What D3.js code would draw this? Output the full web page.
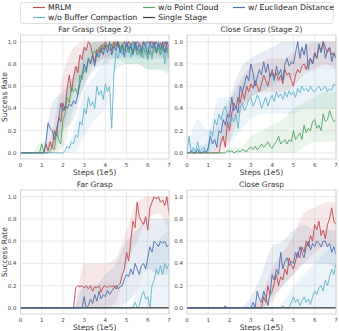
<!DOCTYPE html>
<html>
<head>
<meta charset="utf-8">
<script src="https://cdn.jsdelivr.net/npm/d3@7"></script>
<style>
  body { margin: 0; background: #fff; }
  svg { display: block; font-family: "DejaVu Sans", sans-serif; }
  .tick-label { font-size: 5.5px; fill: #444; }
  .title { font-size: 7.5px; fill: #333; }
  .axis-label { font-size: 7.5px; fill: #333; }
  .legend-text { font-size: 7.8px; fill: #222; }
</style>
</head>
<body>
<svg id="chart" width="339" height="331"></svg>
<script>
// step values 0.0 .. 7.0 (x1e5), every 0.1
const steps = d3.range(71).map(i => i / 10);
// band sample points, every 0.5
const bandSteps = d3.range(15).map(i => i / 2);
const xTicks = [0, 1, 2, 3, 4, 5, 6, 7];
const yTicks = [0, 0.2, 0.4, 0.6, 0.8, 1.0];

const seriesNames = ["MRLM", "w/o Buffer Compaction", "w/o Point Cloud", "Single Stage", "w/ Euclidean Distance"];
const seriesColors = ["#c44e52", "#64b5cd", "#55a868", "#3b3b3b", "#4c72b0"];

// ---- Far Grasp (Stage 2)
const farS2Mrlm = [0,0,0,0,0,0,0,0,0,0,0,0,
  0.08,0.02,0.1,0.04,0.2,0.15,0.32,0.28,0.45,0.38,0.58,0.7,0.55,0.68,0.78,0.72,0.88,0.84,
  0.95,0.92,1.0,0.97,0.88,0.82,0.93,0.9,0.97,0.93,1.0,0.95,0.98,0.92,1.0,0.96,1.0,0.94,0.98,1.0,
  0.95,1.0,0.97,1.0,0.96,1.0,0.98,0.94,1.0,0.97,1.0,0.99,1.0,0.96,1.0,0.95,0.99,0.92,1.0,0.96,0.9];
const farS2Euclid = [0,0,0,0,0,0,0,0,0,0,0,0,
  0.1,0.27,0.22,0.2,0.12,0.22,0.3,0.45,0.38,0.42,0.4,0.44,0.42,0.47,0.44,0.52,0.62,0.7,
  0.8,0.74,0.85,0.8,0.88,0.78,0.9,0.86,0.94,0.88,0.97,0.9,1.0,0.88,0.96,0.92,1.0,0.9,0.97,0.86,
  1.0,0.93,0.98,0.88,1.0,0.92,0.98,0.9,1.0,0.95,0.88,1.0,0.94,1.0,0.9,0.98,0.93,1.0,0.9,1.0,0.95];
const farS2NoPc = [0,0,0,0,0,0,0,0,0,0,
  0.08,0,0,0,0.02,0.05,0.03,0.2,0.12,0.08,0.3,0.35,0.5,0.45,0.6,0.55,0.58,0.52,0.7,0.66,
  0.75,0.72,0.85,0.8,0.88,0.92,0.86,0.95,0.9,0.98,0.94,0.97,0.92,0.98,0.95,1.0,0.96,0.93,0.98,0.92,
  0.97,0.9,0.95,0.9,0.96,0.88,0.93,0.86,0.95,0.9,0.84,0.92,0.88,0.96,0.9,0.94,0.88,0.98,0.9,0.94,0.85];
const farS2NoBuf = [0,0,0,0,0,0,0,0,0,0,0,0,0,0,0,0,0,0,0,0,0,
  0.02,0.06,0.04,0.1,0.08,0.16,0.14,0.28,0.25,0.4,0.35,0.5,0.42,0.46,0.4,0.6,0.52,0.56,0.48,
  0.62,0.55,0.6,0.22,0.7,0.9,0.85,0.95,0.88,0.98,0.9,0.96,0.86,1.0,0.92,0.97,0.88,0.95,0.85,1.0,
  0.9,0.96,0.84,0.98,0.92,1.0,0.88,0.96,0.8,0.95,0.9];
const farS2MrlmLo = [0,0,0,0,0.2,0.55,0.75,0.8,0.85,0.9,0.9,0.9,0.9,0.88,0.8];
const farS2MrlmHi = [0,0,0,0.2,0.7,0.95,1,1,1,1,1,1,1,1,1];
const farS2EuclidLo = [0,0,0,0.05,0.2,0.3,0.6,0.75,0.8,0.85,0.85,0.85,0.85,0.85,0.85];
const farS2EuclidHi = [0,0,0,0.45,0.55,0.7,0.95,1,1,1,1,1,1,1,1];
const farS2NoPcLo = [0,0,0,0,0.05,0.4,0.6,0.8,0.85,0.85,0.8,0.8,0.75,0.75,0.7];
const farS2NoPcHi = [0,0,0.1,0.1,0.45,0.7,0.85,1,1,1,1,1,1,1,1];
const farS2NoBufLo = [0,0,0,0,0,0,0.15,0.3,0.4,0.75,0.8,0.8,0.75,0.75,0.75];
const farS2NoBufHi = [0,0,0,0,0,0.2,0.55,0.7,0.85,1,1,1,1,1,1];

// ---- Close Grasp (Stage 2)
const closeS2Euclid = [0,0,0.02,0,0,0.03,0,0,0.02,0,
  0.05,0.15,0.08,0.12,0.05,0.2,0.18,0.3,0.25,0.35,0.32,0.5,0.38,0.42,0.36,0.6,0.55,0.62,0.7,0.65,
  0.8,0.72,0.6,0.68,0.75,0.7,0.82,0.72,0.8,0.68,0.72,0.65,0.78,0.7,0.75,0.65,0.8,0.85,0.78,0.82,
  0.8,0.9,1.0,0.85,0.95,0.88,0.98,0.75,0.85,0.8,0.9,0.85,0.98,0.9,1.0,0.85,0.92,0.95,0.82,0.9,0.85];
const closeS2Mrlm = [0,0,0,0,0,0,0,0,0,0,0,0,0,0,0,0,
  0.1,0.15,0.05,0.28,0.2,0.35,0.45,0.4,0.5,0.45,0.55,0.48,0.6,0.55,
  0.62,0.58,0.65,0.6,0.55,0.62,0.7,0.65,0.6,0.68,0.75,0.68,0.72,0.65,0.7,0.62,0.75,0.7,0.72,0.65,
  0.6,0.7,0.75,0.72,0.78,0.8,0.75,0.82,0.85,0.8,0.9,0.85,0.95,0.92,1.0,0.95,0.9,0.95,0.88,0.9,0.85];
const closeS2NoBuf = [0,0.15,0,0.05,0,0.1,0,0.03,0.05,0,
  0.02,0.2,0.15,0.3,0.25,0.35,0.3,0.38,0.42,0.35,0.25,0.32,0.28,0.35,0.22,0.4,0.45,0.38,0.42,0.48,
  0.5,0.42,0.46,0.52,0.48,0.4,0.45,0.5,0.42,0.48,0.52,0.46,0.55,0.5,0.53,0.48,0.55,0.5,0.56,0.52,
  0.55,0.5,0.58,0.54,0.6,0.56,0.58,0.55,0.6,0.56,0.55,0.58,0.6,0.56,0.58,0.6,0.55,0.58,0.56,0.62,0.6];
const closeS2NoPc = [0,0,0,0,0,0,0,0,0,0,0,0,0,0,0,0,0,0,0,
  0.02,0.01,0.02,0,0.01,0.02,0.01,0.03,0.02,0.01,0.04,
  0.05,0.03,0.06,0.03,0.05,0.08,0.05,0.07,0.1,0.06,0.04,0.08,0.1,0.15,0.08,0.1,0.12,0.08,0.12,0.1,
  0.2,0.12,0.15,0.18,0.12,0.25,0.18,0.22,0.2,0.28,0.3,0.22,0.25,0.2,0.35,0.28,0.3,0.38,0.32,0.28,0.3];
const closeS2EuclidLo = [0,0,0,0.05,0.2,0.4,0.5,0.55,0.6,0.65,0.7,0.75,0.75,0.75,0.75];
const closeS2EuclidHi = [0,0.05,0.1,0.3,0.5,0.75,0.85,0.9,0.95,1,1,1,1,1,1];
const closeS2MrlmLo = [0,0,0,0,0.1,0.35,0.5,0.55,0.55,0.55,0.6,0.7,0.75,0.8,0.75];
const closeS2MrlmHi = [0,0,0,0.1,0.45,0.65,0.78,0.82,0.85,0.85,0.9,0.95,1,1,1];
const closeS2NoBufLo = [0,0,0,0.1,0.1,0.2,0.3,0.35,0.35,0.35,0.35,0.4,0.4,0.4,0.4];
const closeS2NoBufHi = [0,0.3,0.2,0.5,0.5,0.6,0.7,0.7,0.72,0.7,0.72,0.75,0.75,0.75,0.75];
const closeS2NoPcLo = [0,0,0,0,0,0,0,0,0,0,0,0.05,0.1,0.1,0.1];
const closeS2NoPcHi = [0,0,0,0,0.05,0.05,0.15,0.2,0.25,0.3,0.4,0.45,0.5,0.55,0.55];

// ---- Far Grasp
const farMrlm = [0,0,0,0,0,0,0,0,0,0,0,0,0,0,0,0,0,0,0,0,0,0,0,0,0,0,
  0.18,0.2,0.19,0.2,0.18,0.2,0.17,0.2,0.15,0.19,0.18,0.2,0.14,0.19,0.2,0.18,0.2,0.19,0.2,
  0.17,0.2,0.22,0.3,0.35,0.5,0.42,0.6,0.78,0.72,0.95,0.82,0.78,0.75,0.82,0.7,0.9,0.95,1.0,0.98,
  1.0,0.95,0.97,0.92,1.0,0.85];
const farEuclid = [0,0,0,0,0,0,0,0,0,0,0,0,0,0,0,0,0,0,0,0,0,0,0,0,0,0,0,0,0,0,
  0.1,0,0.02,0.08,0.04,0.12,0.06,0.15,0.08,0.12,0.1,0.16,0.12,0.15,0.18,0.2,0.17,0.19,0.2,0.26,
  0.3,0.28,0.35,0.3,0.4,0.35,0.3,0.38,0.4,0.35,0.45,0.55,0.5,0.6,0.58,0.55,0.6,0.58,0.6,0.55,0.57];
const farNoBuf = [0,0,0,0,0,0,0,0,0,0,0,0,0,0,0,0,0,0,0,0,0,0,0,0,0,0,0,0,0,0,
  0,0,0,0,0,0,0,0,0,0,0,0,0,0,0,0,0,0,0,0,0,0,0,0,
  0.05,0,0.02,0.1,0.15,0.08,0.1,0,0.2,0.25,0.35,0.3,0.38,0.3,0.4,0.35,0.4];
const farSingle = steps.map(() => 0);
const farMrlmLo = [0,0,0,0,0,0,0,0,0,0.05,0.4,0.6,0.8,0.85,0.7];
const farMrlmHi = [0,0,0,0,0,0,0.4,0.4,0.4,0.45,0.7,0.95,1,1,1];
const farEuclidLo = [0,0,0,0,0,0,0,0,0,0,0.05,0.15,0.35,0.3,0.3];
const farEuclidHi = [0,0,0,0,0,0,0.2,0.2,0.3,0.4,0.6,0.7,0.8,0.8,0.8];
const farNoBufLo = [0,0,0,0,0,0,0,0,0,0,0,0,0,0,0];
const farNoBufHi = [0,0,0,0,0,0,0,0,0,0,0,0.15,0.4,0.6,0.7];

// ---- Close Grasp
const closeEuclid = [0,0,0,0,0,0,0,0,0,0,0,0,0,0,0,0,0,0,0.02,
  0,0,0,0,0,0,0,0,0,0,0,0,
  0.05,0,0.15,0.08,0.05,0.15,0.1,0.02,0.12,0.3,0.25,0.35,0.3,0.5,0.35,0.42,0.45,0.38,0.42,
  0.4,0.5,0.45,0.55,0.5,0.45,0.55,0.6,0.52,0.58,0.55,0.6,0.58,0.55,0.6,0.6,0.55,0.58,0.5,0.55,0.48];
const closeMrlm = [0,0,0,0,0,0,0,0,0,0,0,0,0,0,0,0,0,0,0,0,0,0,0,0,0,0,0,0,0,0,0,0,0,0,0,0,
  0.1,0.05,0.2,0.12,0.15,0.22,0.3,0.2,0.28,0.25,0.35,0.3,0.45,0.38,0.35,0.42,0.5,0.45,0.55,
  0.5,0.6,0.55,0.65,0.6,0.75,0.7,0.78,0.65,0.7,0.62,0.75,0.8,0.9,0.78,0.75];
const closeNoBuf = [0,0,0,0,0,0,0,0,0,0,0,0,0,0,0,0,0,0,0,0,0,0,0,0,0,0,0,0,0,0,
  0,0,0,0,0,0,0,0,0,0,0,0,0,0,0,
  0.02,0,0,0,0.05,0.1,0.05,0.08,0.02,0.06,0.1,0.05,0.08,0.03,0.1,0.15,0.12,0.18,0.2,0.15,
  0.25,0.2,0.28,0.35,0.3,0.4];
const closeSingle = steps.map(() => 0);
const closeMrlmLo = [0,0,0,0,0,0,0,0,0.05,0.2,0.3,0.4,0.5,0.55,0.55];
const closeMrlmHi = [0,0,0,0,0,0,0,0.1,0.35,0.5,0.65,0.85,0.9,0.95,0.95];
const closeEuclidLo = [0,0,0,0,0,0,0,0,0.1,0.2,0.3,0.4,0.4,0.4,0.35];
const closeEuclidHi = [0,0,0,0,0,0,0.1,0.3,0.55,0.6,0.7,0.75,0.7,0.7,0.7];
const closeNoBufLo = [0,0,0,0,0,0,0,0,0,0,0,0,0,0,0];
const closeNoBufHi = [0,0,0,0,0,0,0,0,0,0.05,0.2,0.3,0.4,0.5,0.6];

const panels = [
  { title: "Far Grasp (Stage 2)", left: 20.5, right: 169, top: 35, bottom: 159, yLabel: true,
    lines: [
      { s: 0, v: farS2Mrlm, lo: farS2MrlmLo, hi: farS2MrlmHi },
      { s: 1, v: farS2NoBuf, lo: farS2NoBufLo, hi: farS2NoBufHi },
      { s: 2, v: farS2NoPc, lo: farS2NoPcLo, hi: farS2NoPcHi },
      { s: 4, v: farS2Euclid, lo: farS2EuclidLo, hi: farS2EuclidHi }
    ] },
  { title: "Close Grasp (Stage 2)", left: 187, right: 336, top: 35, bottom: 159, yLabel: false,
    lines: [
      { s: 0, v: closeS2Mrlm, lo: closeS2MrlmLo, hi: closeS2MrlmHi },
      { s: 1, v: closeS2NoBuf, lo: closeS2NoBufLo, hi: closeS2NoBufHi },
      { s: 2, v: closeS2NoPc, lo: closeS2NoPcLo, hi: closeS2NoPcHi },
      { s: 4, v: closeS2Euclid, lo: closeS2EuclidLo, hi: closeS2EuclidHi }
    ] },
  { title: "Far Grasp", left: 20.5, right: 169, top: 190, bottom: 314, yLabel: true,
    lines: [
      { s: 0, v: farMrlm, lo: farMrlmLo, hi: farMrlmHi },
      { s: 1, v: farNoBuf, lo: farNoBufLo, hi: farNoBufHi },
      { s: 3, v: farSingle },
      { s: 4, v: farEuclid, lo: farEuclidLo, hi: farEuclidHi }
    ] },
  { title: "Close Grasp", left: 187, right: 336, top: 190, bottom: 314, yLabel: false,
    lines: [
      { s: 0, v: closeMrlm, lo: closeMrlmLo, hi: closeMrlmHi },
      { s: 1, v: closeNoBuf, lo: closeNoBufLo, hi: closeNoBufHi },
      { s: 3, v: closeSingle },
      { s: 4, v: closeEuclid, lo: closeEuclidLo, hi: closeEuclidHi }
    ] }
];

const svg = d3.select("#chart");
svg.append("rect").attr("width", 339).attr("height", 331).attr("fill", "#fff");

panels.forEach(p => {
  const x = d3.scaleLinear().domain([0, 7]).range([p.left, p.right]);
  const y = d3.scaleLinear().domain([-0.055, 1.06]).range([p.bottom, p.top]);
  const g = svg.append("g");

  // grid
  g.selectAll(".gx").data(xTicks).join("line")
    .attr("x1", d => x(d)).attr("x2", d => x(d))
    .attr("y1", p.top).attr("y2", p.bottom)
    .attr("stroke", "#e5e5e5").attr("stroke-width", 0.8);
  g.selectAll(".gy").data(yTicks).join("line")
    .attr("x1", p.left).attr("x2", p.right)
    .attr("y1", d => y(d)).attr("y2", d => y(d))
    .attr("stroke", "#e5e5e5").attr("stroke-width", 0.8);

  // tick labels
  g.selectAll(".xt").data(xTicks).join("text")
    .attr("class", "tick-label")
    .attr("x", d => x(d)).attr("y", p.bottom + 7.5)
    .attr("text-anchor", "middle")
    .text(d => d);
  g.selectAll(".yt").data(yTicks).join("text")
    .attr("class", "tick-label")
    .attr("x", p.left - 4).attr("y", d => y(d) + 2)
    .attr("text-anchor", "end")
    .text(d3.format(".1f"));

  const clipId = "clip" + Math.round(p.left) + p.top;
  svg.append("clipPath").attr("id", clipId).append("rect")
    .attr("x", p.left).attr("y", p.top)
    .attr("width", p.right - p.left).attr("height", p.bottom - p.top);
  const plot = g.append("g").attr("clip-path", `url(#${clipId})`);

  const band = d3.area()
    .x((d, i) => x(bandSteps[i]))
    .y0(d => y(d[0])).y1(d => y(d[1]))
    .curve(d3.curveMonotoneX);
  const line = d3.line()
    .x((d, i) => x(steps[i]))
    .y(d => y(d));

  p.lines.filter(l => l.lo).forEach(l => {
    plot.append("path")
      .datum(l.lo.map((v, i) => [v, l.hi[i]]))
      .attr("d", band)
      .attr("fill", seriesColors[l.s])
      .attr("fill-opacity", 0.13);
  });
  p.lines.forEach(l => {
    plot.append("path")
      .datum(l.v)
      .attr("d", line)
      .attr("fill", "none")
      .attr("stroke", seriesColors[l.s])
      .attr("stroke-width", l.s === 3 ? 1.3 : 0.95)
      .attr("stroke-linejoin", "round");
  });

  // frame
  g.append("rect")
    .attr("x", p.left).attr("y", p.top)
    .attr("width", p.right - p.left).attr("height", p.bottom - p.top)
    .attr("fill", "none").attr("stroke", "#d0d0d0").attr("stroke-width", 0.8);

  g.append("text").attr("class", "title")
    .attr("x", (p.left + p.right) / 2).attr("y", p.top - 3)
    .attr("text-anchor", "middle").text(p.title);
  g.append("text").attr("class", "axis-label")
    .attr("x", (p.left + p.right) / 2).attr("y", p.bottom + 16)
    .attr("text-anchor", "middle").text("Steps (1e5)");
  if (p.yLabel) {
    g.append("text").attr("class", "axis-label")
      .attr("transform", `translate(7,${(p.top + p.bottom) / 2}) rotate(-90)`)
      .attr("text-anchor", "middle").text("Success Rate");
  }
});

// legend
const legendCols = [33, 143, 233];
const legendRows = [7.5, 17.5];
const legend = svg.append("g");
legend.append("rect")
  .attr("x", 20.5).attr("y", 2.5).attr("width", 312.5).attr("height", 21)
  .attr("rx", 2).attr("fill", "#fff").attr("stroke", "#d8d8d8").attr("stroke-width", 0.8);
seriesNames.forEach((name, i) => {
  const cx = legendCols[Math.floor(i / 2)];
  const cy = legendRows[i % 2];
  legend.append("line")
    .attr("x1", cx).attr("x2", cx + 12).attr("y1", cy).attr("y2", cy)
    .attr("stroke", seriesColors[i]).attr("stroke-width", 1.2);
  legend.append("text").attr("class", "legend-text")
    .attr("x", cx + 15).attr("y", cy + 2.7).text(name);
});
</script>
</body>
</html>
